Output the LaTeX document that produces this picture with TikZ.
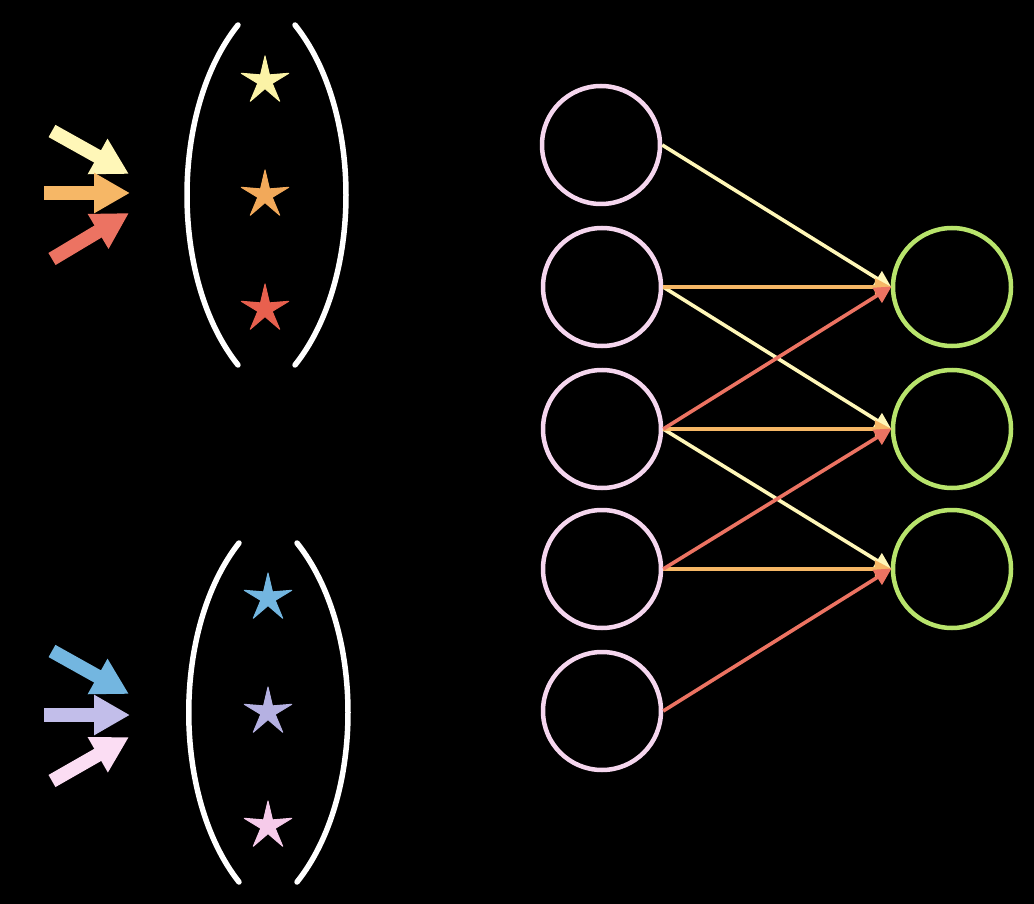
\documentclass[tikz,border=0pt]{standalone}
\usetikzlibrary{arrows.meta,shapes.geometric}
\definecolor{cyel}{HTML}{FFF7B8}
\definecolor{cora}{HTML}{F6B766}
\definecolor{cred}{HTML}{EC7362}
\definecolor{sred}{HTML}{E8604E}
\definecolor{syel}{HTML}{FBF3A6}
\definecolor{sora}{HTML}{F2A95A}
\definecolor{cblue}{HTML}{73B6E0}
\definecolor{clav}{HTML}{C2BEEA}
\definecolor{cpink}{HTML}{FBDDF3}
\definecolor{spink}{HTML}{F6CBEA}
\definecolor{slav}{HTML}{B5B1E2}
\definecolor{ringpink}{HTML}{F5D6EE}
\definecolor{ringgreen}{HTML}{B8E46C}
\begin{document}
\begin{tikzpicture}[x=1pt,y=-1pt,
  inner/.style={circle,draw=ringpink,line width=4.5pt,minimum size=118pt,inner sep=0pt},
  outer/.style={circle,draw=ringgreen,line width=4.5pt,minimum size=118pt,inner sep=0pt},
  edge/.style={line width=3.6pt,-{Triangle[length=17pt,width=17pt]},shorten >=-1pt},
  blockarrow/.style={line width=14pt,-{Triangle[length=36pt,width=38pt]}},
  paren/.style={draw=white,line width=5.5pt,line cap=round},
  starmark/.style={star,star points=5,star point ratio=3.3,minimum size=50pt,inner sep=0pt,line join=round,line width=1pt}
]
\fill[black] (0,0) rectangle (1034,904);
\useasboundingbox (0,0) rectangle (1034,904);

% left block arrows, top group
\coordinate (ya1) at (52,131);  \coordinate (ya2) at (129,174);
\coordinate (oa1) at (44,193);  \coordinate (oa2) at (130,193);
\coordinate (ra1) at (52,259);  \coordinate (ra2) at (129,213);
\draw[blockarrow,cyel] (ya1) -- (ya2);
\draw[blockarrow,cora] (oa1) -- (oa2);
\draw[blockarrow,cred] (ra1) -- (ra2);
% bottom group
\coordinate (ba1) at (52,651);  \coordinate (ba2) at (129,694);
\coordinate (la1) at (44,715);  \coordinate (la2) at (130,715);
\coordinate (pa1) at (52,781);  \coordinate (pa2) at (129,737);
\draw[blockarrow,cblue] (ba1) -- (ba2);
\draw[blockarrow,clav] (la1) -- (la2);
\draw[blockarrow,cpink] (pa1) -- (pa2);

% parentheses
\draw[paren] (238,25) .. controls (170,110) and (170,280) .. (238,365);
\draw[paren] (295,25) .. controls (363,110) and (363,280) .. (295,365);
\draw[paren] (239,543) .. controls (172,628) and (172,797) .. (239,882);
\draw[paren] (297,543) .. controls (365,628) and (365,797) .. (297,882);

% stars
\node[starmark,fill=syel,draw=syel] (s1) at (265,81) {};
\node[starmark,fill=sora,draw=sora] (s2) at (265,195) {};
\node[starmark,fill=sred,draw=sred] (s3) at (265,309) {};
\node[starmark,fill=cblue,draw=cblue] (s4) at (268,598) {};
\node[starmark,fill=slav,draw=slav] (s5) at (268,712) {};
\node[starmark,fill=spink,draw=spink] (s6) at (268,826) {};

% network nodes
\node[inner] (l1) at (601,145) {};
\node[inner] (l2) at (602,287) {};
\node[inner] (l3) at (602,429) {};
\node[inner] (l4) at (602,569) {};
\node[inner] (l5) at (602,711) {};
\node[outer] (r1) at (952,287) {};
\node[outer] (r2) at (952,429) {};
\node[outer] (r3) at (952,569) {};

% edges
\draw[edge,cyel] (l1.east) -- (r1.west);
\draw[edge,cyel] (l2.east) -- (r2.west);
\draw[edge,cyel] (l3.east) -- (r3.west);
\draw[edge,cora] (l2.east) -- (r1.west);
\draw[edge,cora] (l3.east) -- (r2.west);
\draw[edge,cora] (l4.east) -- (r3.west);
\draw[edge,cred] (l3.east) -- (r1.west);
\draw[edge,cred] (l4.east) -- (r2.west);
\draw[edge,cred] (l5.east) -- (r3.west);
\end{tikzpicture}
\end{document}
